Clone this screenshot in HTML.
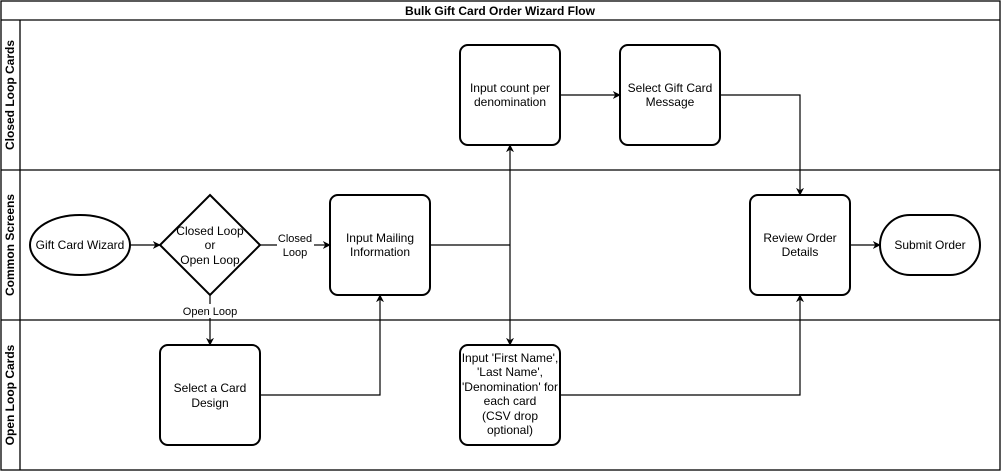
<!DOCTYPE html>
<html><head><meta charset="utf-8"><style>
html,body{margin:0;padding:0;background:#fff;}
svg{display:block;}
text{font-family:"Liberation Sans",Helvetica,Arial,sans-serif;fill:#000;}
</style></head><body>
<svg width="1002" height="472" viewBox="0 0 1002 472" xmlns="http://www.w3.org/2000/svg">
<defs>
<marker id="a" viewBox="0 0 10 10" refX="9" refY="5" markerWidth="8" markerHeight="8" orient="auto" markerUnits="userSpaceOnUse">
<path d="M0,0 L10,5 L0,10 L3,5 Z" fill="#000"/>
</marker>
</defs>
<g fill="none" stroke="#000" stroke-width="1.3">
<rect x="1" y="1" width="999" height="469"/>
<line x1="1" y1="20" x2="1000" y2="20"/>
<line x1="20" y1="20" x2="20" y2="470"/>
<line x1="1" y1="170" x2="1000" y2="170"/>
<line x1="1" y1="320" x2="1000" y2="320"/>
</g>
<text x="500" y="15" font-size="12" font-weight="bold" text-anchor="middle">Bulk Gift Card Order Wizard Flow</text>
<text transform="translate(14,95) rotate(-90)" font-size="12" font-weight="bold" text-anchor="middle">Closed Loop Cards</text>
<text transform="translate(14,245) rotate(-90)" font-size="12" font-weight="bold" text-anchor="middle">Common Screens</text>
<text transform="translate(14,395) rotate(-90)" font-size="12" font-weight="bold" text-anchor="middle">Open Loop Cards</text>

<g fill="none" stroke="#000" stroke-width="1.2">
<line x1="130" y1="245" x2="160" y2="245" marker-end="url(#a)"/>
<line x1="260" y1="245" x2="277" y2="245"/>
<line x1="314" y1="245" x2="330" y2="245" marker-end="url(#a)"/>
<line x1="210" y1="295" x2="210" y2="304"/>
<line x1="210" y1="318" x2="210" y2="345" marker-end="url(#a)"/>
<polyline points="260,395 380,395 380,295" marker-end="url(#a)"/>
<line x1="430" y1="245" x2="510" y2="245"/>
<line x1="510" y1="245" x2="510" y2="145" marker-end="url(#a)"/>
<line x1="510" y1="245" x2="510" y2="345" marker-end="url(#a)"/>
<line x1="560" y1="95" x2="620" y2="95" marker-end="url(#a)"/>
<polyline points="720,95 800,95 800,195" marker-end="url(#a)"/>
<polyline points="560,395 800,395 800,295" marker-end="url(#a)"/>
<line x1="850" y1="245" x2="880" y2="245" marker-end="url(#a)"/>
</g>

<g fill="#fff" stroke="#000" stroke-width="2">
<ellipse cx="80" cy="245" rx="50" ry="30"/>
<polygon points="210,195 260,245 210,295 160,245"/>
<rect x="330" y="195" width="100" height="100" rx="8"/>
<rect x="160" y="345" width="100" height="100" rx="8"/>
<rect x="460" y="45" width="100" height="100" rx="8"/>
<rect x="620" y="45" width="100" height="100" rx="8"/>
<rect x="750" y="195" width="100" height="100" rx="8"/>
<rect x="460" y="345" width="100" height="100" rx="8"/>
<rect x="880" y="215" width="100" height="60" rx="30"/>
</g>

<g font-size="12" text-anchor="middle">
<text x="80" y="249">Gift Card Wizard</text>
<text x="210" y="235">Closed Loop</text>
<text x="210" y="249">or</text>
<text x="210" y="264">Open Loop</text>
<text x="295" y="242" font-size="11">Closed</text>
<text x="295" y="256" font-size="11">Loop</text>
<text x="210" y="315" font-size="11">Open Loop</text>
<text x="380" y="242">Input Mailing</text>
<text x="380" y="256">Information</text>
<text x="210" y="392">Select a Card</text>
<text x="210" y="407">Design</text>
<text x="510" y="92">Input count per</text>
<text x="510" y="106">denomination</text>
<text x="670" y="92">Select Gift Card</text>
<text x="670" y="106">Message</text>
<text x="800" y="242">Review Order</text>
<text x="800" y="256">Details</text>
<text x="930" y="249">Submit Order</text>
<text x="510" y="362">Input 'First Name',</text>
<text x="510" y="376">'Last Name',</text>
<text x="510" y="391">'Denomination' for</text>
<text x="510" y="405">each card</text>
<text x="510" y="420">(CSV drop</text>
<text x="510" y="434">optional)</text>
</g>
</svg>
</body></html>
